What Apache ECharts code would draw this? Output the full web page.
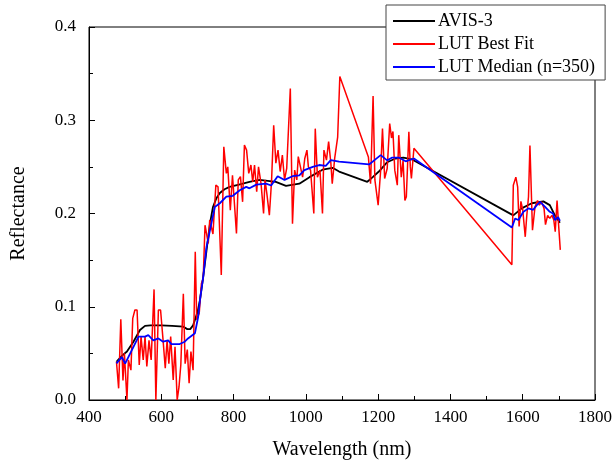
<!DOCTYPE html>
<html>
<head>
<meta charset="utf-8">
<script src="https://cdn.jsdelivr.net/npm/echarts@6/dist/echarts.min.js"></script>
<style>
  html, body { margin: 0; padding: 0; background: #fff; }
  #chart { width: 615px; height: 466px; }
</style>
</head>
<body>
<div id="chart"></div>
<script>
// AVIS-3 measured spectrum
var avisWl = [476, 490, 505, 523, 541, 555, 570, 600, 630, 661, 672, 680, 688, 700, 707, 716, 725, 735, 743, 752, 762, 775, 789, 815, 844, 872, 917, 945, 982, 1010, 1046, 1074, 1092, 1170, 1185, 1202, 1225, 1248, 1270, 1294, 1574, 1597, 1625, 1657, 1675, 1689, 1703];
var avisRefl = [0.041, 0.047, 0.052, 0.0625, 0.075, 0.0795, 0.080, 0.080, 0.0795, 0.0786, 0.076, 0.076, 0.080, 0.094, 0.107, 0.132, 0.160, 0.190, 0.207, 0.216, 0.222, 0.226, 0.2286, 0.231, 0.234, 0.236, 0.234, 0.2297, 0.232, 0.239, 0.247, 0.249, 0.245, 0.234, 0.239, 0.245, 0.255, 0.259, 0.260, 0.258, 0.198, 0.2055, 0.211, 0.213, 0.209, 0.198, 0.190];

// LUT best fit
var bestWl = [476, 482, 488, 494, 498, 505, 509, 516, 521, 527, 533, 539, 544, 550, 555, 560, 566, 572, 580, 585, 592, 598, 605, 611, 616, 621, 626, 633, 638, 644, 649, 654, 661, 666, 672, 677, 682, 688, 694, 698, 705, 711, 716, 721, 730, 734, 743, 751, 757, 766, 773, 780, 784, 791, 797, 801, 808, 813, 819, 825, 830, 836, 842, 848, 853, 858, 864, 869, 876, 883, 887, 892, 899, 905, 911, 917, 923, 929, 935, 941, 947, 951, 957, 963, 969, 975, 979, 985, 991, 997, 1003, 1007, 1013, 1022, 1026, 1032, 1039, 1046, 1050, 1057, 1063, 1069, 1073, 1080, 1088, 1094, 1173, 1179, 1186, 1191, 1200, 1207, 1212, 1218, 1225, 1232, 1237, 1241, 1246, 1253, 1257, 1264, 1269, 1274, 1278, 1285, 1289, 1292, 1299, 1570, 1574, 1581, 1586, 1590, 1595, 1600, 1607, 1611, 1616, 1620, 1627, 1634, 1641, 1646, 1652, 1659, 1663, 1669, 1675, 1681, 1686, 1690, 1695, 1699, 1704];
var bestRefl = [0.041, 0.0125, 0.0865, 0.021, 0.050, 0.0, 0.043, 0.032, 0.0875, 0.0965, 0.0965, 0.0375, 0.068, 0.043, 0.068, 0.036, 0.064, 0.043, 0.1186, 0.0, 0.0965, 0.0965, 0.064, 0.034, 0.064, 0.039, 0.068, 0.0214, 0.057, 0.0, 0.014, 0.0375, 0.114, 0.039, 0.054, 0.018, 0.052, 0.032, 0.159, 0.086, 0.093, 0.125, 0.13, 0.1875, 0.168, 0.193, 0.178, 0.2304, 0.2286, 0.134, 0.2715, 0.243, 0.250, 0.2036, 0.241, 0.243, 0.1787, 0.236, 0.2395, 0.2125, 0.2733, 0.268, 0.243, 0.252, 0.234, 0.252, 0.2233, 0.25, 0.232, 0.200, 0.236, 0.2215, 0.1983, 0.234, 0.2947, 0.254, 0.268, 0.245, 0.2626, 0.236, 0.2483, 0.25, 0.334, 0.189, 0.2465, 0.236, 0.261, 0.25, 0.239, 0.259, 0.268, 0.25, 0.2465, 0.200, 0.291, 0.239, 0.2465, 0.200, 0.268, 0.2572, 0.277, 0.255, 0.232, 0.26, 0.282, 0.347, 0.2607, 0.232, 0.326, 0.236, 0.209, 0.2465, 0.291, 0.2375, 0.2483, 0.2965, 0.281, 0.288, 0.2465, 0.2304, 0.284, 0.239, 0.257, 0.214, 0.218, 0.2876, 0.25, 0.2375, 0.27, 0.145, 0.2304, 0.239, 0.2286, 0.186, 0.213, 0.204, 0.175, 0.1965, 0.218, 0.273, 0.182, 0.207, 0.214, 0.209, 0.2125, 0.2055, 0.188, 0.198, 0.1947, 0.198, 0.193, 0.1805, 0.214, 0.1894, 0.161];

// LUT median (n=350)
var medianWl = [476, 491, 500, 523, 537, 555, 564, 578, 592, 605, 619, 628, 651, 665, 674, 693, 702, 707, 716, 725, 748, 762, 780, 798, 817, 835, 844, 863, 890, 904, 922, 941, 963, 982, 996, 1019, 1037, 1055, 1069, 1092, 1175, 1189, 1207, 1225, 1239, 1257, 1276, 1299, 1570, 1579, 1588, 1602, 1616, 1629, 1639, 1648, 1662, 1675, 1684, 1689, 1698, 1703];
var medianRefl = [0.0393, 0.046, 0.039, 0.057, 0.068, 0.068, 0.0695, 0.064, 0.066, 0.0625, 0.064, 0.060, 0.060, 0.0625, 0.066, 0.0715, 0.089, 0.107, 0.132, 0.164, 0.207, 0.211, 0.218, 0.219, 0.225, 0.2286, 0.227, 0.231, 0.232, 0.230, 0.240, 0.236, 0.240, 0.241, 0.2465, 0.250, 0.252, 0.251, 0.2572, 0.2556, 0.2526, 0.257, 0.2626, 0.257, 0.260, 0.26, 0.256, 0.259, 0.185, 0.1947, 0.193, 0.2018, 0.2055, 0.204, 0.209, 0.2125, 0.207, 0.2018, 0.2, 0.193, 0.196, 0.192];

var xTicks = [400, 600, 800, 1000, 1200, 1400, 1600, 1800];
var yTicks = [0.0, 0.1, 0.2, 0.3, 0.4];

function pairs(xs, ys) {
    var out = [];
    for (var i = 0; i < xs.length; i++) {
        out.push([xs[i], ys[i]]);
    }
    return out;
}

var font = 'Liberation Serif';
var chart = echarts.init(document.getElementById('chart'));

var option = {
    animation: false,
    backgroundColor: '#fff',
    grid: {
        left: 89,
        right: 18,
        top: 27,
        bottom: 66,
        show: true,
        borderColor: '#000',
        borderWidth: 1
    },
    legend: {
        orient: 'vertical',
        left: 386,
        top: 5,
        padding: [7, 10, 4, 7],
        itemGap: 5,
        itemWidth: 42,
        itemHeight: 2,
        icon: 'rect',
        backgroundColor: '#fff',
        borderColor: '#444',
        borderWidth: 1,
        textStyle: { fontFamily: font, fontSize: 18, color: '#000', padding: [0, 0, 0, -2] },
        data: ['AVIS-3', 'LUT Best Fit', 'LUT Median (n=350)']
    },
    xAxis: {
        type: 'value',
        min: xTicks[0],
        max: xTicks[xTicks.length - 1],
        interval: 200,
        name: 'Wavelength (nm)',
        nameLocation: 'middle',
        nameGap: 40,
        nameTextStyle: { fontFamily: font, fontSize: 20, color: '#000' },
        axisLine: { onZero: false, lineStyle: { color: '#000', width: 1 } },
        axisTick: { inside: true, length: 6, lineStyle: { color: '#000' } },
        minorTick: { show: true, splitNumber: 2, length: 4, lineStyle: { color: '#000' } },
        axisLabel: {
            fontFamily: font, fontSize: 17, color: '#000', margin: 9,
            formatter: function (v) { return String(v); }
        },
        splitLine: { show: false }
    },
    yAxis: {
        type: 'value',
        min: yTicks[0],
        max: yTicks[yTicks.length - 1],
        interval: 0.1,
        name: 'Reflectance',
        nameLocation: 'middle',
        nameGap: 60,
        nameTextStyle: { fontFamily: font, fontSize: 20, color: '#000' },
        axisLine: { lineStyle: { color: '#000', width: 1 } },
        axisTick: { inside: true, length: 6, lineStyle: { color: '#000' } },
        minorTick: { show: true, splitNumber: 2, length: 4, lineStyle: { color: '#000' } },
        axisLabel: {
            fontFamily: font, fontSize: 17, color: '#000', margin: 13,
            formatter: function (v) { return v.toFixed(1); }
        },
        splitLine: { show: false }
    },
    series: [
        {
            name: 'AVIS-3',
            type: 'line',
            showSymbol: false,
            color: '#000',
            lineStyle: { width: 1.8, color: '#000' },
            data: pairs(avisWl, avisRefl)
        },
        {
            name: 'LUT Best Fit',
            type: 'line',
            showSymbol: false,
            color: '#ff0000',
            lineStyle: { width: 1.5, color: '#ff0000' },
            data: pairs(bestWl, bestRefl)
        },
        {
            name: 'LUT Median (n=350)',
            type: 'line',
            showSymbol: false,
            color: '#0000ff',
            lineStyle: { width: 1.8, color: '#0000ff' },
            data: pairs(medianWl, medianRefl)
        }
    ]
};
chart.setOption(option);
</script>
</body>
</html>
